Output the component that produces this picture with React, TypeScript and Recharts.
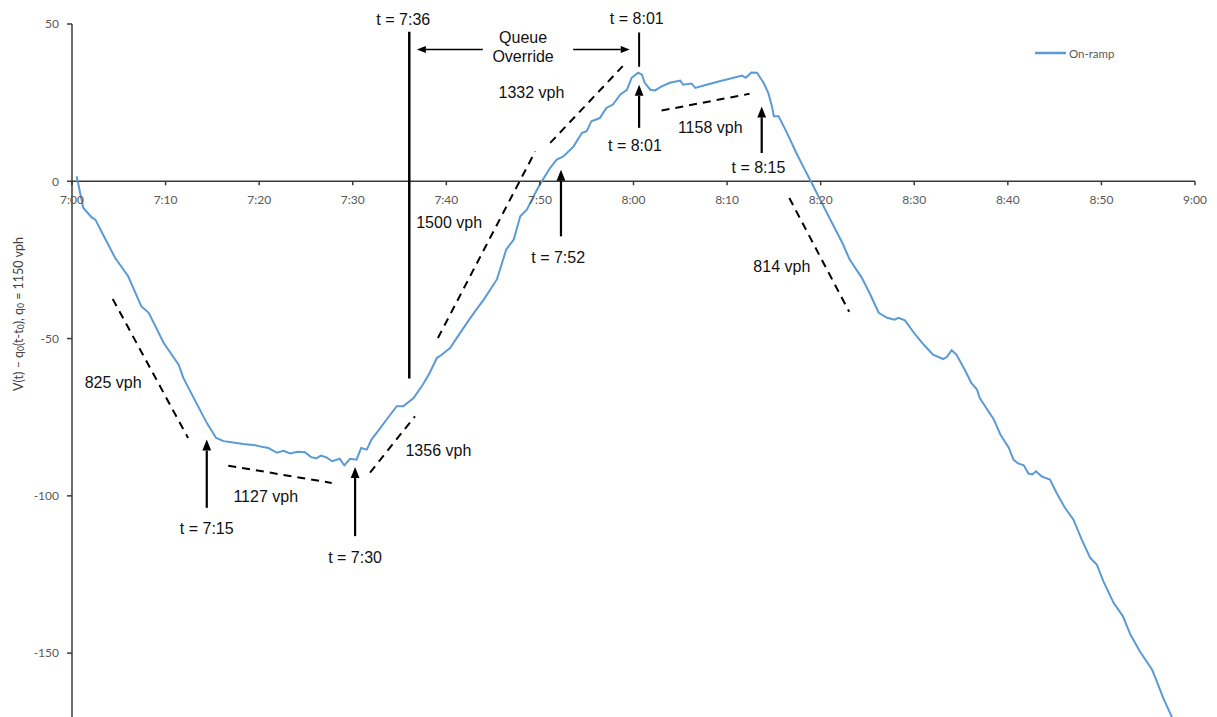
import React from "react";
import { LineChart, Line, XAxis, YAxis, ReferenceLine, ReferenceDot } from "recharts";

// minutes after 7:00 and cumulative deviation V(t) - q0(t - t0)
const minutes = [
  0.5, 1.2, 2.1, 2.5, 3.2, 4.6, 6.0, 7.4, 8.2, 9.8, 11.4, 11.9, 13.1, 14.4, 15.4, 16.2, 17.6, 18.3,
  19.6, 20.4, 21.0, 21.9, 22.6, 23.3, 24.1, 24.9, 25.5, 26.1, 26.6, 27.2, 27.8, 28.6, 29.1, 29.7,
  30.4, 30.9, 31.5, 32.0, 32.8, 33.6, 34.7, 35.4, 36.5, 37.5, 38.2, 39.0, 39.3, 40.4, 41.3, 42.2,
  43.1, 44.0, 45.4, 46.4, 47.2, 47.9, 48.6, 49.7, 50.2, 51.1, 51.8, 52.5, 53.6, 54.5, 55.0, 55.5,
  56.4, 57.1, 57.8, 58.6, 59.3, 59.8, 60.5, 60.9, 61.2, 61.8, 62.3, 63.0, 63.9, 65.0, 65.3, 66.2,
  66.6, 67.8, 69.2, 70.7, 71.6, 72.0, 72.6, 73.2, 73.9, 74.4, 74.8, 75.0, 75.5, 76.4, 77.4, 78.3,
  79.0, 80.3, 81.4, 82.4, 83.1, 84.4, 85.3, 86.2, 87.1, 87.9, 88.3, 89.0, 90.1, 91.0, 92.0, 93.1,
  93.5, 94.0, 94.5, 95.4, 96.1, 96.7, 97.0, 98.5, 99.2, 100.1, 100.6, 101.1, 101.7, 102.2, 102.6,
  103.0, 103.6, 104.5, 105.2, 106.1, 107.0, 107.9, 108.8, 109.5, 110.2, 111.3, 112.3, 113.1, 114.1,
  115.4, 115.7, 116.6, 117.5, 118.0,
];
const onRamp = [
  1.6, -8.4, -11.5, -12.2, -16.3, -24.3, -30.2, -39.7, -41.8, -51.4, -58.3, -62.5, -69.4, -76.8,
  -81.6, -82.6, -83.2, -83.5, -83.9, -84.5, -84.8, -86.3, -85.7, -86.5, -86.0, -86.1, -87.6, -88.1,
  -87.2, -87.8, -89.0, -88.2, -90.3, -88.2, -88.5, -84.8, -85.3, -82.1, -79.0, -75.8, -71.5, -71.5,
  -68.9, -64.6, -61.0, -56.1, -55.6, -53.0, -49.0, -45.0, -41.2, -37.6, -31.2, -21.7, -18.5, -11.1,
  -9.0, -2.6, 0.0, 4.3, 6.9, 7.9, 11.1, 15.4, 15.9, 19.1, 20.1, 23.3, 24.4, 27.6, 29.1, 32.9, 34.5,
  33.9, 31.3, 29.1, 28.9, 30.2, 31.3, 32.0, 30.7, 31.1, 29.7, 30.7, 31.8, 32.9, 33.6, 32.9, 34.6,
  34.5, 31.3, 28.1, 23.8, 20.7, 20.7, 15.4, 9.0, 3.7, -0.3, -7.9, -14.3, -20.1, -24.9, -30.7, -36.0,
  -41.8, -43.4, -44.0, -43.4, -44.2, -48.7, -51.9, -55.1, -56.5, -55.8, -53.7, -55.1, -59.9, -64.1,
  -66.2, -68.9, -75.7, -80.5, -84.7, -88.5, -89.7, -90.3, -92.9, -93.2, -92.2, -93.8, -94.8, -99.0,
  -103.8, -107.5, -113.9, -119.7, -121.8, -127.1, -134.0, -138.3, -144.1, -149.4, -155.2, -157.3,
  -164.2, -170.1, -173.0,
];

const xTicks = [0, 10, 20, 30, 40, 50, 60, 70, 80, 90, 100, 110, 120];
const xTickLabels = ["7:00", "7:10", "7:20", "7:30", "7:40", "7:50", "8:00", "8:10", "8:20", "8:30", "8:40", "8:50", "9:00"];
const yTicks = [50, 0, -50, -100, -150];

// fitted flow lines (minute, value) pairs
const dashedLines = [
  [[4.35, -37.4], [12.4, -81.6]],
  [[16.7, -90.4], [27.75, -95.9]],
  [[31.85, -92.6], [36.65, -74.7]],
  [[39.1, -49.8], [49.5, 9.5]],
  [[51.1, 12.2], [58.85, 36.6]],
  [[63.0, 22.5], [72.4, 27.8]],
  [[76.65, -5.3], [83.05, -41.5]],
];
const markerLines = [
  [[36.04, 47.5], [36.04, -62.7]],
  [[60.6, 47.3], [60.6, 36.4]],
];
const timeArrows = [
  [[14.4, -103.8], [14.4, -82.1]],
  [[30.25, -112.8], [30.25, -90.8]],
  [[52.25, -17.5], [52.25, 3.7]],
  [[60.6, 17.0], [60.6, 30.7]],
  [[73.7, 9.0], [73.7, 23.8]],
];
const overrideArrows = [
  [[43.9, 41.9], [36.85, 41.9]],
  [[53.55, 41.9], [59.6, 41.9]],
];
const notes: [number, number, string][] = [
  [35.4, 51.4, "t = 7:36"],
  [60.35, 51.7, "t = 8:01"],
  [48.2, 45.7, "Queue"],
  [48.2, 39.6, "Override"],
  [4.4, -64.1, "825 vph"],
  [20.7, -100.1, "1127 vph"],
  [39.15, -85.6, "1356 vph"],
  [40.3, -13.2, "1500 vph"],
  [49.1, 28.1, "1332 vph"],
  [68.2, 17.0, "1158 vph"],
  [75.85, -27.0, "814 vph"],
  [14.4, -110.4, "t = 7:15"],
  [30.25, -119.5, "t = 7:30"],
  [51.95, -24.3, "t = 7:52"],
  [60.15, 11.4, "t = 8:01"],
  [73.35, 4.3, "t = 8:15"],
];

const data = minutes.map((m, i) => ({ m, v: onRamp[i] }));

const AXIS = "#3a3a3a";
const TICK = "#595959";

function Arrow(props: any) {
  const { x1, y1, x2, y2, head = 10, width = 2 } = props;
  const dx = x2 - x1;
  const dy = y2 - y1;
  const len = Math.hypot(dx, dy) || 1;
  const ux = dx / len;
  const uy = dy / len;
  const bx = x2 - ux * head;
  const by = y2 - uy * head;
  const w = head * 0.4;
  return (
    <g>
      <line x1={x1} y1={y1} x2={bx} y2={by} stroke="#000" strokeWidth={width} />
      <polygon
        points={`${x2},${y2} ${bx - uy * w},${by + ux * w} ${bx + uy * w},${by - ux * w}`}
        fill="#000"
      />
    </g>
  );
}

function YTitle() {
  const cx = 18;
  const cy = 314;
  return (
    <text
      x={cx}
      y={cy}
      transform={`rotate(-90 ${cx} ${cy})`}
      textAnchor="middle"
      dominantBaseline="central"
      fontFamily="Lato, 'Open Sans', sans-serif"
      fontSize={12.5}
      fill="#404040"
    >
      V(t) – q<tspan dy={3} fontSize={8.5}>0</tspan>
      <tspan dy={-3}>(t-t</tspan>
      <tspan dy={3} fontSize={8.5}>0</tspan>
      <tspan dy={-3}>), q</tspan>
      <tspan dy={3} fontSize={8.5}>0</tspan>
      <tspan dy={-3}> = 1150 vph</tspan>
    </text>
  );
}

export default function App() {
  return (
    <div style={{ position: "absolute", left: 0, top: 0, width: 1217, height: 717, background: "#fff" }}>
      <LineChart width={1217} height={717} data={data} margin={{ top: 24, right: 22, bottom: 0, left: 0 }}>
        <XAxis dataKey="m" type="number" domain={[0, 120]} ticks={xTicks} hide />
        <YAxis
          type="number"
          domain={[-170.3, 50]}
          ticks={yTicks}
          allowDataOverflow
          width={72}
          tickSize={5}
          tickMargin={8}
          axisLine={{ stroke: AXIS, strokeWidth: 1.5 }}
          tickLine={{ stroke: AXIS, strokeWidth: 1.5 }}
          tick={{ fill: TICK, fontSize: 12, fontFamily: "Lato, sans-serif" }}
          label={<YTitle />}
        />
        <ReferenceLine y={0} stroke={AXIS} strokeWidth={1.5} />
        {xTicks.map((t, i) => (
          <ReferenceDot
            key={`xt-${t}`}
            x={t}
            y={0}
            ifOverflow="visible"
            shape={(p: any) => (
              <g>
                <line x1={p.cx} y1={p.cy} x2={p.cx} y2={p.cy + 4} stroke={AXIS} strokeWidth={1.5} />
                <text
                  x={p.cx}
                  y={p.cy + 18}
                  textAnchor="middle"
                  dominantBaseline="central"
                  fill={TICK}
                  fontSize={12}
                  fontFamily="Lato, sans-serif"
                >
                  {xTickLabels[i]}
                </text>
              </g>
            )}
          />
        ))}
        {dashedLines.map((s, i) => (
          <ReferenceLine
            key={`d-${i}`}
            segment={[{ x: s[0][0], y: s[0][1] }, { x: s[1][0], y: s[1][1] }]}
            stroke="#000"
            strokeWidth={2}
            strokeDasharray="8 6"
            ifOverflow="visible"
          />
        ))}
        {markerLines.map((s, i) => (
          <ReferenceLine
            key={`s-${i}`}
            segment={[{ x: s[0][0], y: s[0][1] }, { x: s[1][0], y: s[1][1] }]}
            stroke="#000"
            strokeWidth={i === 0 ? 2.5 : 2}
            ifOverflow="visible"
          />
        ))}
        {timeArrows.map((s, i) => (
          <ReferenceLine
            key={`a-${i}`}
            segment={[{ x: s[0][0], y: s[0][1] }, { x: s[1][0], y: s[1][1] }]}
            ifOverflow="visible"
            shape={(p: any) => <Arrow {...p} head={11} width={2.2} />}
          />
        ))}
        {overrideArrows.map((s, i) => (
          <ReferenceLine
            key={`o-${i}`}
            segment={[{ x: s[0][0], y: s[0][1] }, { x: s[1][0], y: s[1][1] }]}
            ifOverflow="visible"
            shape={(p: any) => <Arrow {...p} head={9} width={1.5} />}
          />
        ))}
        {notes.map(([x, y, txt], i) => (
          <ReferenceDot
            key={`n-${i}`}
            x={x}
            y={y}
            ifOverflow="visible"
            shape={(p: any) => (
              <text
                x={p.cx}
                y={p.cy}
                textAnchor="middle"
                dominantBaseline="central"
                fontFamily="'Liberation Sans', Arial, sans-serif"
                fontSize={16}
                fill="#111"
              >
                {txt}
              </text>
            )}
          />
        ))}
        <Line
          type="linear"
          dataKey="v"
          name="On-ramp"
          stroke="#5B9BD5"
          strokeWidth={2}
          dot={false}
          isAnimationActive={false}
        />
      </LineChart>
      <div
        style={{
          position: "absolute",
          left: 1035,
          top: 46,
          display: "flex",
          alignItems: "center",
          fontFamily: "Lato, sans-serif",
          fontSize: 11.5,
          color: TICK,
        }}
      >
        <svg width={31} height={14} style={{ marginRight: 3 }}>
          <line x1={0} y1={7} x2={31} y2={7} stroke="#5B9BD5" strokeWidth={2.5} />
        </svg>
        <span>On-ramp</span>
      </div>
    </div>
  );
}
